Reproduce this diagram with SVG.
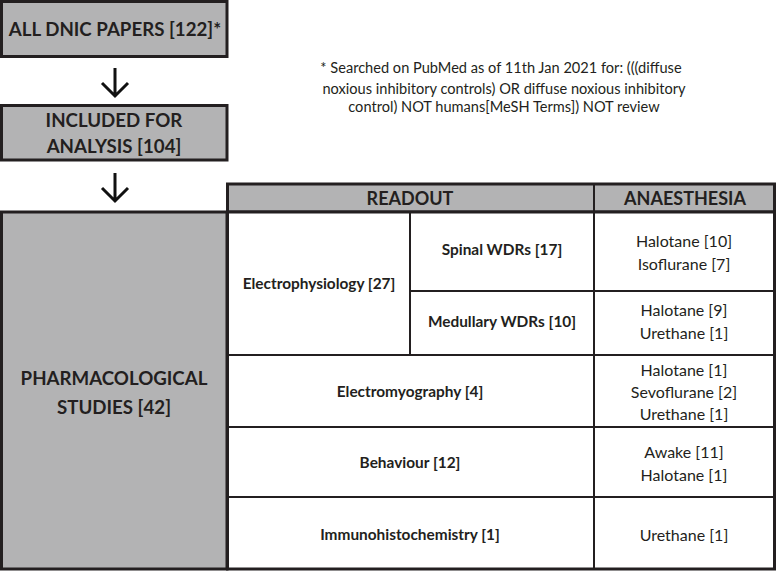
<svg xmlns="http://www.w3.org/2000/svg" width="778" height="571" viewBox="0 0 778 571">
<style>
  .box { fill: #b3b3b4; stroke: #231f20; stroke-width: 3; }
  .cell { fill: #ffffff; stroke: #231f20; stroke-width: 3; }
  .ln { stroke: #231f20; stroke-width: 2; fill: none; }
  .arr { stroke: #111; stroke-width: 3; fill: none; }
  text { font-family: Lato, "Open Sans", sans-serif; fill: #231f20; text-anchor: middle; dominant-baseline: central; }
  .big { font-size: 18.7px; font-weight: bold; }
  .hd { font-size: 18px; font-weight: bold; }
  .b { font-size: 15.4px; font-weight: bold; }
  .r { font-size: 16px; }
  .note { font-size: 14.6px; }
</style>
<rect width="778" height="571" fill="#ffffff"/>
<g id="node-all">
  <rect class="box" x="1.5" y="1.5" width="225.5" height="55"/>
  <text class="big" x="115" y="29">ALL DNIC PAPERS [122]*</text>
</g>
<g id="node-included">
  <rect class="box" x="1.5" y="105.5" width="225.5" height="54.5"/>
  <text class="big" x="114" y="120">INCLUDED FOR</text>
  <text class="big" x="114" y="146">ANALYSIS [104]</text>
</g>
<g id="node-pharma">
  <rect class="box" x="1.5" y="212" width="225.5" height="357"/>
  <text class="big" x="114" y="378">PHARMACOLOGICAL</text>
  <text class="big" x="114" y="407">STUDIES [42]</text>
</g>
<g id="note">
  <text class="note" x="501" y="67">* Searched on PubMed as of 11th Jan 2021 for: (((diffuse</text>
  <text class="note" x="504" y="88">noxious inhibitory controls) OR diffuse noxious inhibitory</text>
  <text class="note" x="504" y="106">control) NOT humans[MeSH Terms]) NOT review</text>
</g>
<g id="table">
  <rect class="box" x="227.5" y="184" width="547" height="28"/>
  <rect class="cell" x="227.5" y="212" width="547" height="357"/>
  <line class="ln" x1="594" y1="184" x2="594" y2="569"/>
  <line class="ln" x1="410" y1="212" x2="410" y2="355"/>
  <line class="ln" x1="410" y1="291" x2="775" y2="291"/>
  <line class="ln" x1="227" y1="355" x2="775" y2="355"/>
  <line class="ln" x1="227" y1="427" x2="775" y2="427"/>
  <line class="ln" x1="227" y1="497" x2="775" y2="497"/>
  <text class="hd" x="410" y="198">READOUT</text>
  <text class="hd" x="685" y="198">ANAESTHESIA</text>
  <text class="b" x="319" y="283">Electrophysiology [27]</text>
  <text class="b" x="502" y="249">Spinal WDRs [17]</text>
  <text class="b" x="502" y="321">Medullary WDRs [10]</text>
  <text class="r" x="684" y="240">Halotane [10]</text>
  <text class="r" x="684" y="263">Isoflurane [7]</text>
  <text class="r" x="684" y="309">Halotane [9]</text>
  <text class="r" x="684" y="332">Urethane [1]</text>
  <text class="b" x="410" y="391">Electromyography [4]</text>
  <text class="r" x="684" y="369">Halotane [1]</text>
  <text class="r" x="684" y="391">Sevoflurane [2]</text>
  <text class="r" x="684" y="413">Urethane [1]</text>
  <text class="b" x="410" y="462">Behaviour [12]</text>
  <text class="r" x="684" y="451">Awake [11]</text>
  <text class="r" x="684" y="474">Halotane [1]</text>
  <text class="b" x="410" y="534">Immunohistochemistry [1]</text>
  <text class="r" x="684" y="534">Urethane [1]</text>
</g>
<g id="connectors">
  <path class="arr" d="M115 68 V96 M102 83 L115 96 L128 83"/>
  <path class="arr" d="M115 173 V201 M102 188 L115 201 L128 188"/>
</g>
</svg>
